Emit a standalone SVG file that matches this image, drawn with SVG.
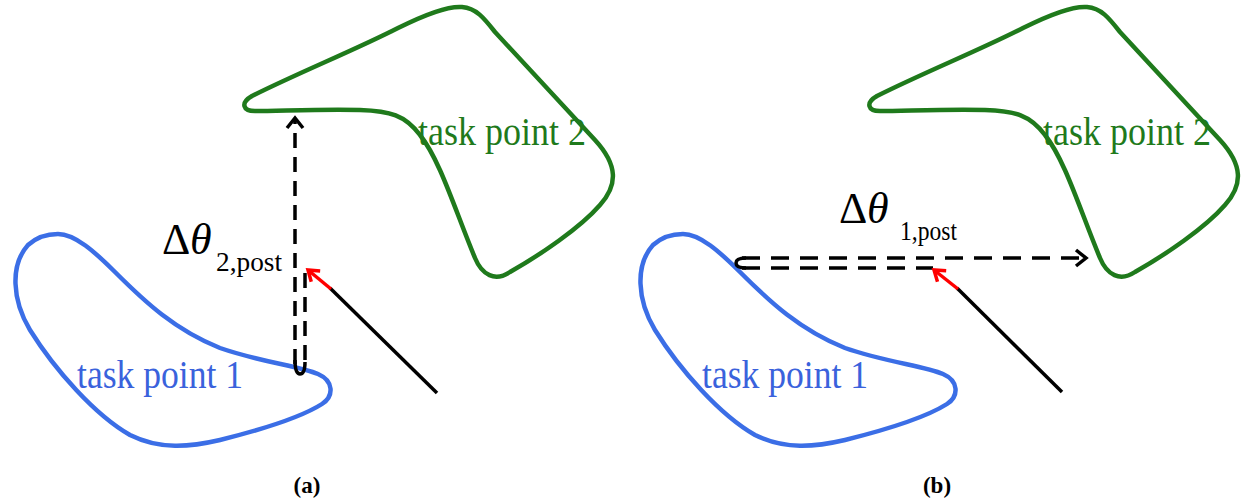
<svg xmlns="http://www.w3.org/2000/svg" xmlns:xlink="http://www.w3.org/1999/xlink" width="1241" height="501" viewBox="0 0 1241 501">
<style>
.blue{fill:none;stroke:#3b6ee6;stroke-width:4.5;stroke-linejoin:round}
.green{fill:none;stroke:#1f7a1c;stroke-width:4.5;stroke-linejoin:round}
text{font-family:"Liberation Serif","Times New Roman",Times,serif}
.tb{font-size:40px;fill:#3a62dc}
.tg{font-size:40px;fill:#1f7a1c}
.dash{fill:none;stroke:#000;stroke-width:3.5}
.dv{stroke-dasharray:15 9}
.dh{stroke-dasharray:18 11}
.solid{fill:none;stroke:#000;stroke-width:3.5}
.red{fill:none;stroke:#f00;stroke-width:3.5}
.lab{font-size:44px;fill:#000}
.sub{font-size:27px;fill:#000}
.cap{font-size:23px;font-weight:bold;fill:#000}
</style>
<defs>
<path id="blueShape" d="M58,234 C75,234 95,252 115,272 C145,302 175,330 220,348 C260,362 300,366 318,374 C334,381 334,396 322,404 C300,418 260,430 220,440 C190,447 160,450 130,435 C95,415 55,370 30,330 C12,300 10,265 28,245 C38,236 48,234 58,234 Z"/>
<path id="greenShape" d="M255,111 C243,111 240,103 252,96 C300,72 355,50 398,28 C430,12 450,6 462,7 C476,8 484,18 495,32 L595,140 C618,165 618,185 600,205 C580,228 540,255 510,272 C495,282 482,275 475,258 C455,210 440,160 420,135 C405,115 390,111 360,110 C320,109 280,111 255,111 Z"/>
<marker id="arrowBlack" markerUnits="userSpaceOnUse" markerWidth="24" markerHeight="24" viewBox="-12 -12 24 24" refX="0" refY="0" orient="auto">
<path d="M-10,-8 L0,0 L-10,8" fill="none" stroke="#000" stroke-width="3.5"/>
</marker>
<marker id="arrowRed" markerUnits="userSpaceOnUse" markerWidth="24" markerHeight="24" viewBox="-12 -12 24 24" refX="0" refY="0" orient="auto">
<path d="M-10,-7 L0,0 L-10,7" fill="none" stroke="#f00" stroke-width="3.5"/>
</marker>
</defs>
<rect width="1241" height="501" fill="#fff"/>

<g id="task-point-1-a">
<use xlink:href="#blueShape" class="blue"/>
<text class="tb" font-family="Liberation Serif, serif" x="77" y="388" textLength="166" lengthAdjust="spacingAndGlyphs">task point 1</text>
</g>
<g id="task-point-2-a">
<use xlink:href="#greenShape" class="green"/>
<text class="tg" font-family="Liberation Serif, serif" x="418" y="145" textLength="168" lengthAdjust="spacingAndGlyphs">task point 2</text>
</g>
<g id="task-point-1-b" transform="translate(625,0)">
<use xlink:href="#blueShape" class="blue"/>
<text class="tb" font-family="Liberation Serif, serif" x="77" y="388" textLength="166" lengthAdjust="spacingAndGlyphs">task point 1</text>
</g>
<g id="task-point-2-b" transform="translate(625,0)">
<use xlink:href="#greenShape" class="green"/>
<text class="tg" font-family="Liberation Serif, serif" x="418" y="145" textLength="168" lengthAdjust="spacingAndGlyphs">task point 2</text>
</g>

<g id="connectors">
<path class="dash dv" d="M295,364 L295,118" marker-end="url(#arrowBlack)"/>
<path class="dash dv" d="M305,273 L305,364"/>
<path class="solid" d="M295,360 Q295,374 300,374 Q305,374 305,362"/>
<path class="solid" d="M437,393 L330,288"/>
<path class="red" d="M331,289 L308,270" marker-end="url(#arrowRed)"/>
<path class="dash dh" d="M742,258 L1086,258" marker-end="url(#arrowBlack)"/>
<path class="dash dh" d="M742,268 L933,268"/>
<path class="solid" d="M746,258 Q736,258 736,263 Q736,268 746,268"/>
<path class="solid" d="M1062,392 L957,288"/>
<path class="red" d="M958,289 L934,270" marker-end="url(#arrowRed)"/>
</g>

<g id="labels">
<text class="lab" font-family="Liberation Serif, serif" x="162" y="254">Δ<tspan x="190" font-style="italic">θ</tspan></text>
<text class="sub" font-family="Liberation Serif, serif" x="216" y="271" textLength="66" lengthAdjust="spacingAndGlyphs">2,post</text>
<text class="lab" font-family="Liberation Serif, serif" x="839" y="223">Δ<tspan x="867" font-style="italic">θ</tspan></text>
<text class="sub" font-family="Liberation Serif, serif" x="900" y="240" textLength="57" lengthAdjust="spacingAndGlyphs">1,post</text>
<text class="cap" font-family="Liberation Serif, serif" x="307" y="493" text-anchor="middle">(a)</text>
<text class="cap" font-family="Liberation Serif, serif" x="937" y="493" text-anchor="middle">(b)</text>
</g>
</svg>
